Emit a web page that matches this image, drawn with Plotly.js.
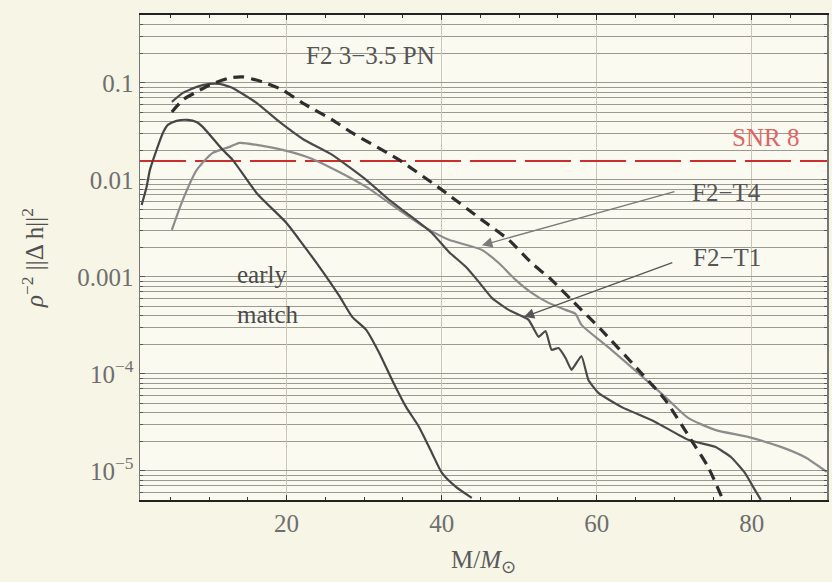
<!DOCTYPE html>
<html>
<head>
<meta charset="utf-8">
<script src="https://cdn.plot.ly/plotly-3.0.1.min.js"></script>
<style>html,body{margin:0;padding:0;background:#f6f5e6;}#chart{width:832px;height:582px;}</style>
</head>
<body>
<div id="chart"></div>
<script>
// F2 3-3.5 PN (dashed)
const pnX = [5.21, 6.62, 8.42, 10.09, 12.66, 14.33, 16.90, 19.47, 22.04, 25.90, 28.47, 34.51, 40.04, 45.18, 48.65, 51.61, 54.18, 56.75, 60.60, 65.75, 68.83, 72.17, 74.36, 76.29];
const pnY = [0.0502, 0.0668, 0.0807, 0.0953, 0.1126, 0.1153, 0.1024, 0.0847, 0.0622, 0.0416, 0.0305, 0.01607, 0.00789, 0.00387, 0.00241, 0.00139, 0.000931, 0.000579, 0.000284, 0.000102, 5.40e-5, 2.09e-5, 1.10e-5, 5.02e-6];

// F2-T1 (dark solid)
const t1X = [5.21, 6.62, 8.42, 10.09, 11.38, 13.05, 16.13, 19.09, 22.30, 25.90, 30.27, 33.23, 35.80, 38.75, 40.94, 43.12, 44.79, 46.47, 48.65, 51.22, 52.51, 53.41, 54.18, 55.08, 55.98, 56.75, 58.03, 58.93, 60.22, 63.17, 67.54, 71.79, 75.26, 77.31, 79.11, 80.40, 81.17];
const t1Y = [0.0637, 0.0789, 0.0910, 0.0977, 0.0977, 0.0888, 0.0622, 0.0396, 0.0258, 0.0181, 0.0100, 0.00622, 0.00436, 0.00284, 0.00181, 0.00127, 0.000888, 0.000608, 0.000457, 0.000361, 0.000241, 0.000277, 0.000177, 0.000185, 0.000146, 0.000110, 0.000153, 8.67e-5, 6.37e-5, 4.57e-5, 3.20e-5, 2.09e-5, 1.77e-5, 1.39e-5, 9.53e-6, 6.37e-6, 5.02e-6];

// F2-T4 (light solid)
const t4X = [5.21, 6.62, 8.42, 10.48, 12.66, 13.95, 16.90, 19.47, 22.56, 25.51, 30.27, 34.51, 37.98, 40.94, 45.18, 47.37, 49.55, 51.61, 53.79, 55.98, 57.26, 58.03, 59.83, 61.89, 65.36, 68.83, 71.79, 75.26, 79.50, 83.74, 86.83, 89.66];
const t4Y = [0.00305, 0.00622, 0.01268, 0.0190, 0.0219, 0.0241, 0.0224, 0.0204, 0.0173, 0.0136, 0.00847, 0.00491, 0.00320, 0.00241, 0.00190, 0.00139, 0.000931, 0.000684, 0.000540, 0.000457, 0.000416, 0.000320, 0.000241, 0.000177, 0.000102, 5.80e-5, 3.52e-5, 2.65e-5, 2.24e-5, 1.77e-5, 1.39e-5, 9.77e-6];

// early match (dark solid)
const emX = [1.31, 1.95, 2.38, 3.24, 4.05, 4.69, 5.81, 7.26, 8.38, 9.19, 11.76, 13.05, 16.13, 19.99, 21.66, 24.23, 26.80, 28.47, 30.27, 31.94, 33.61, 35.41, 37.08, 38.75, 40.04, 41.84, 43.89];
const emY = [0.00552, 0.00847, 0.01268, 0.0204, 0.0305, 0.0369, 0.0406, 0.0416, 0.0396, 0.0352, 0.0204, 0.0161, 0.00734, 0.00360, 0.00241, 0.00127, 0.000637, 0.000387, 0.000284, 0.000165, 8.67e-5, 4.57e-5, 2.84e-5, 1.53e-5, 9.53e-6, 6.84e-6, 5.27e-6];

// SNR 8 threshold: rho^-2 = 1/64
const snrLevel = 1 / 64;
const xRange = [1.1, 89.7];
const snrX = xRange;
const snrY = [snrLevel, snrLevel];

const yTickVals = [1e-5, 1e-4, 1e-3, 1e-2, 1e-1];
const yTickText = ["10<sup>−5</sup>", "10<sup>−4</sup>", "0.001", "0.01", "0.1"];
const xTickVals = [20, 40, 60, 80];

const serif = "Liberation Serif, Times New Roman, serif";
const lab = {family: serif, size: 25, color: "#555"};

const traces = [
  {x: snrX, y: snrY, mode: "lines", line: {color: "#cc2e2e", width: 2, dash: "46px,9px"}, hoverinfo: "skip"},
  {x: t4X, y: t4Y, mode: "lines", line: {color: "#8c8c8c", width: 2.2, shape: "spline", smoothing: 0.6}},
  {x: emX, y: emY, mode: "lines", line: {color: "#454545", width: 2.2, shape: "spline", smoothing: 0.6}},
  {x: t1X, y: t1Y, mode: "lines", line: {color: "#4a4a4a", width: 2.2, shape: "spline", smoothing: 0.4}},
  {x: pnX, y: pnY, mode: "lines", line: {color: "#2e2e2e", width: 3.2, dash: "11px,7px", shape: "spline", smoothing: 0.6}}
];

const layout = {
  width: 832, height: 582,
  margin: {l: 140, r: 3, t: 15, b: 82},
  paper_bgcolor: "#f6f5e6",
  plot_bgcolor: "#fbfaf1",
  showlegend: false,
  font: {family: serif, color: "#666"},
  xaxis: {
    range: xRange, tickvals: xTickVals, ticks: "inside", ticklen: 5, tickcolor: "#333",
    showline: true, linecolor: "#222", linewidth: 2, mirror: "ticks",
    showgrid: true, gridcolor: "#c8c6b8", gridwidth: 1, zeroline: false,
    tickfont: {family: serif, size: 25, color: "#6e6e6e"},
    minor: {dtick: 5, ticks: "inside", ticklen: 3, tickcolor: "#333", showgrid: false},
    title: {text: "M/<i>M</i><sub>⊙</sub>", font: {family: serif, size: 25, color: "#5a5a5a"}, standoff: 14}
  },
  yaxis: {
    type: "log", range: [-5.3, -0.3], tickvals: yTickVals, ticktext: yTickText,
    ticks: "inside", ticklen: 5, tickcolor: "#555", automargin: true,
    showline: true, linecolor: "#777", linewidth: 1.5, mirror: "ticks",
    showgrid: true, gridcolor: "#9a9a92", gridwidth: 1, zeroline: false,
    tickfont: {family: serif, size: 25, color: "#6e6e6e"},
    minor: {dtick: "D1", ticks: "inside", ticklen: 3, tickcolor: "#555", showgrid: true, gridcolor: "#9a9a92", gridwidth: 1},
    title: {text: "<i>ρ</i><sup>−2</sup> ||Δ h||<sup>2</sup>", font: {family: serif, size: 25, color: "#505050"}, standoff: 26}
  },
  annotations: [
    {x: 30.85, y: Math.log10(0.19), xref: "x", yref: "y", text: "F2 3−3.5 PN", showarrow: false, font: lab},
    {x: 81.8, y: Math.log10(0.0271), xref: "x", yref: "y", text: "SNR 8", showarrow: false, font: {family: serif, size: 25, color: "#e06464"}},
    {x: 76.8, y: Math.log10(0.00734), xref: "x", yref: "y", text: "F2−T4", showarrow: false, font: lab},
    {x: 76.8, y: Math.log10(0.00159), xref: "x", yref: "y", text: "F2−T1", showarrow: false, font: lab},
    {x: 16.8, y: Math.log10(0.00105), xref: "x", yref: "y", text: "early", showarrow: false, font: {family: serif, size: 25, color: "#4a4a4a"}},
    {x: 17.6, y: Math.log10(0.000405), xref: "x", yref: "y", text: "match", showarrow: false, font: {family: serif, size: 25, color: "#4a4a4a"}},
    {x: 45.2, y: Math.log10(0.00212), xref: "x", yref: "y", text: "", showarrow: true, ax: 194, ay: -54, arrowhead: 2, arrowsize: 1.6, arrowwidth: 1.3, arrowcolor: "#7a7a7a"},
    {x: 50.6, y: Math.log10(0.000385), xref: "x", yref: "y", text: "", showarrow: true, ax: 150, ay: -55, arrowhead: 2, arrowsize: 1.6, arrowwidth: 1.3, arrowcolor: "#555"}
  ]
};

Plotly.newPlot("chart", traces, layout, {displayModeBar: false, staticPlot: true});
</script>
</body>
</html>
